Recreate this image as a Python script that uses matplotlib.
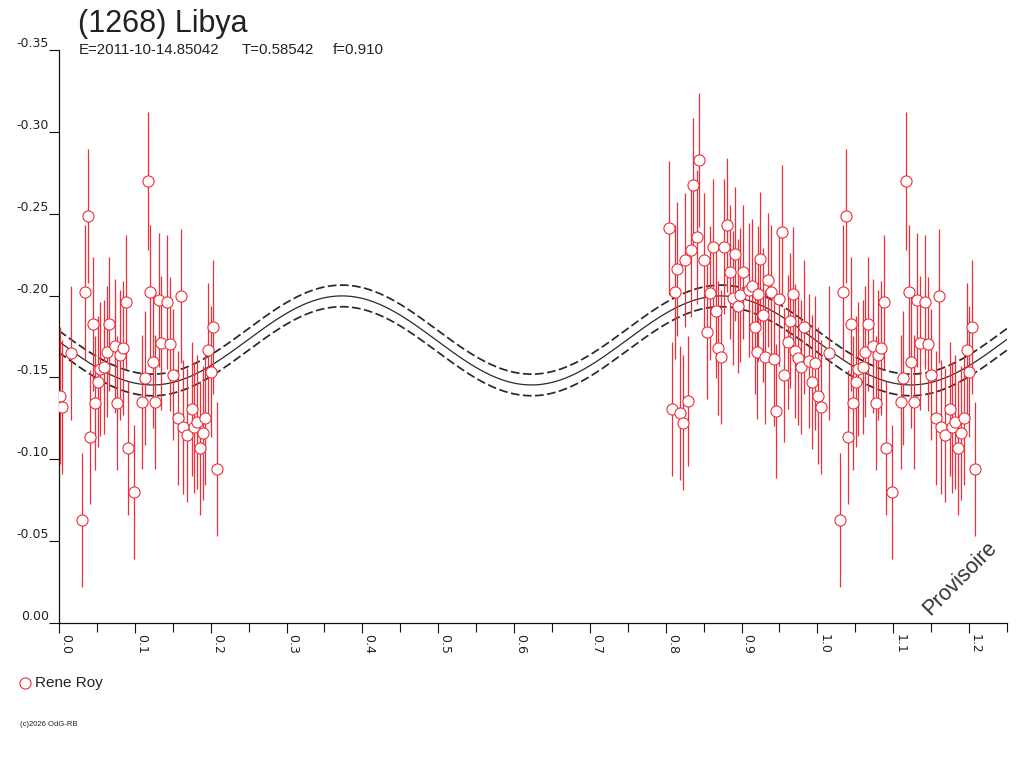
import numpy as np
import matplotlib
matplotlib.use("Agg")
import matplotlib.pyplot as plt
from matplotlib.lines import Line2D
from matplotlib.ticker import FuncFormatter

# ---------------- data ----------------
TITLE = "(1268) Libya"
SUB_E = "E=2011-10-14.85042"
SUB_T = "T=0.58542"
SUB_F = "f=0.910"
OBSERVER = "Rene Roy"
FOOTER = "(c)2026 OdG-RB"
WATERMARK = "Provisoire"

# observations (phase, relative magnitude)
phase_a = [0.0013, 0.0044, 0.0154, 0.0299, 0.0343, 0.0378, 0.0405, 0.0444, 0.0475, 0.0510,
           0.0540, 0.0597, 0.0629, 0.0663, 0.0738, 0.0769, 0.0804, 0.0840, 0.0879, 0.0910,
           0.0989, 0.1098, 0.1134, 0.1169, 0.1204, 0.1239, 0.1269, 0.1318, 0.1349, 0.1424,
           0.1463, 0.1499, 0.1565, 0.1608, 0.1631, 0.1683, 0.1749, 0.1780, 0.1815, 0.1859,
           0.1894, 0.1929, 0.1968, 0.2000, 0.2034, 0.2079]
mag_a = [-0.1389, -0.1321, -0.1651, -0.0631, -0.2024, -0.2484, -0.1134, -0.1827, -0.1346, -0.1474,
         -0.1550, -0.1562, -0.1657, -0.1828, -0.1692, -0.1346, -0.1637, -0.1678, -0.1959, -0.1071,
         -0.0798, -0.1350, -0.1498, -0.2700, -0.2020, -0.1593, -0.1350, -0.1973, -0.1712, -0.1961,
         -0.1704, -0.1515, -0.1254, -0.1996, -0.1195, -0.1147, -0.1307, -0.1195, -0.1230, -0.1067,
         -0.1159, -0.1254, -0.1668, -0.1535, -0.1810, -0.0939]
err_a = [0.042, 0.041, 0.041, 0.041, 0.041, 0.041, 0.041, 0.041, 0.041, 0.040,
         0.041, 0.041, 0.040, 0.041, 0.041, 0.041, 0.040, 0.041, 0.041, 0.041,
         0.041, 0.041, 0.041, 0.042, 0.041, 0.040, 0.041, 0.041, 0.041, 0.041,
         0.041, 0.040, 0.041, 0.041, 0.041, 0.041, 0.041, 0.040, 0.041, 0.041,
         0.041, 0.041, 0.041, 0.040, 0.041, 0.041]

phase_b = [0.8045, 0.8077, 0.8116, 0.8150, 0.8186, 0.8222, 0.8256, 0.8296, 0.8327, 0.8361,
           0.8414, 0.8441, 0.8503, 0.8546, 0.8582, 0.8617, 0.8661, 0.8691, 0.8727, 0.8766,
           0.8806, 0.8845, 0.8881, 0.8911, 0.8951, 0.8977, 0.9013, 0.9100, 0.9135, 0.9175,
           0.9197, 0.9217, 0.9237, 0.9284, 0.9311, 0.9346, 0.9382, 0.9425, 0.9452, 0.9495,
           0.9531, 0.9566, 0.9606, 0.9636, 0.9672, 0.9711, 0.9746, 0.9781, 0.9821, 0.9891,
           0.9930, 0.9970]
mag_b = [-0.2415, -0.1305, -0.2020, -0.2164, -0.1285, -0.1224, -0.2217, -0.1356, -0.2277, -0.2677,
         -0.2360, -0.2828, -0.2217, -0.1779, -0.2014, -0.2299, -0.1908, -0.1680, -0.1627, -0.2299,
         -0.2431, -0.2142, -0.1983, -0.2252, -0.1936, -0.2004, -0.2142, -0.2034, -0.2060, -0.1806,
         -0.1657, -0.2012, -0.2224, -0.1881, -0.1627, -0.2095, -0.2024, -0.1613, -0.1295, -0.1977,
         -0.2389, -0.1515, -0.1718, -0.1847, -0.2008, -0.1663, -0.1617, -0.1562, -0.1810, -0.1600,
         -0.1470, -0.1586]
err_b = [0.041, 0.041, 0.041, 0.041, 0.041, 0.041, 0.041, 0.040, 0.041, 0.041,
         0.041, 0.041, 0.041, 0.041, 0.041, 0.041, 0.041, 0.041, 0.041, 0.041,
         0.041, 0.041, 0.041, 0.041, 0.041, 0.041, 0.041, 0.041, 0.041, 0.041,
         0.041, 0.041, 0.041, 0.041, 0.041, 0.041, 0.041, 0.041, 0.041, 0.041,
         0.041, 0.041, 0.041, 0.041, 0.041, 0.041, 0.041, 0.041, 0.041, 0.041,
         0.041, 0.041]

# fitted lightcurve (2nd-harmonic Fourier model) and its uncertainty band
FIT_MEAN = -0.1726
FIT_AMP = 0.0272
FIT_PHASE_MAX = 0.373
FIT_BAND = 0.0066

XMAX = 1.25
YTICKS = [-0.35, -0.30, -0.25, -0.20, -0.15, -0.10, -0.05, 0.00]
XTICKS_MAJOR = [0.0, 0.1, 0.2, 0.3, 0.4, 0.5, 0.6, 0.7, 0.8, 0.9, 1.0, 1.1, 1.2]
XTICKS_MINOR = [0.05, 0.15, 0.25, 0.35, 0.45, 0.55, 0.65, 0.75, 0.85, 0.95, 1.05, 1.15, 1.25]

# ---------------- styling ----------------
RED = "#ee2e38"
CURVE = "#2a2a2a"
TXT = "#222222"
W, H = 1024, 768

fig = plt.figure(figsize=(W / 100, H / 100), dpi=100)
fig.patch.set_facecolor("white")
ax = fig.add_axes([59 / W, (H - 623) / H, (1007 - 59) / W, (623 - 50) / H])

# observations: repeat with phase+1
ph = np.concatenate([phase_a, phase_b, np.array(phase_a) + 1.0, np.array(phase_b) + 1.0])
mg = np.concatenate([mag_a, mag_b, mag_a, mag_b])
er = np.concatenate([err_a, err_b, err_a, err_b])
keep = (ph >= 0) & (ph <= XMAX)
ph, mg, er = ph[keep], mg[keep], er[keep]

# model curve
grid = np.linspace(0, XMAX, 800)
model = FIT_MEAN - FIT_AMP * np.cos(4 * np.pi * (grid - FIT_PHASE_MAX))
ax.plot(grid, model, color=CURVE, lw=0.9, zorder=2)
ax.plot(grid, model - FIT_BAND, color=CURVE, lw=1.25, ls=(0, (5.0, 2.0)), zorder=2)
ax.plot(grid, model + FIT_BAND, color=CURVE, lw=1.25, ls=(0, (5.0, 2.0)), zorder=2)

ax.errorbar(ph, mg, yerr=er, fmt="none", ecolor=RED, elinewidth=0.9, capsize=0, zorder=3)
ax.plot(ph, mg, ls="none", marker="o", ms=8, mfc="white", mec=RED, mew=0.8, zorder=4)

ax.set_xlim(0, XMAX)
ax.set_ylim(0.0, -0.35)

for s in ["top", "right"]:
    ax.spines[s].set_visible(False)
for s in ["left", "bottom"]:
    ax.spines[s].set_color("#111111")
    ax.spines[s].set_linewidth(0.9)

ax.set_yticks(YTICKS)
ax.yaxis.set_major_formatter(FuncFormatter(lambda v, p: "0.00" if abs(v) < 1e-9 else f"{v:.2f}"))
ax.set_xticks(XTICKS_MAJOR)
ax.set_xticks(XTICKS_MINOR, minor=True)
ax.xaxis.set_major_formatter(FuncFormatter(lambda v, p: f"{v:.1f}"))

ax.tick_params(axis="y", direction="out", length=7.2, width=0.8, pad=0,
               labelsize=9, labelcolor=TXT, color="#111111")
ax.tick_params(axis="x", which="major", direction="out", length=7.2, width=0.8, pad=1,
               labelsize=9, labelcolor=TXT, color="#111111")
ax.tick_params(axis="x", which="minor", direction="out", length=6.6, width=0.8, color="#111111")
plt.setp(ax.get_yticklabels(), va="bottom", family="DejaVu Sans")
plt.setp(ax.get_xticklabels(), rotation=-90, ha="left", va="top", family="DejaVu Sans")

# texts
def fx(px):
    return px / W

def fy(py):
    return 1 - py / H

fig.text(fx(78), fy(32), TITLE, fontsize=22, family="Liberation Sans", color=TXT, va="baseline", ha="left")
fig.text(fx(79), fy(54), SUB_E, fontsize=10.8, family="Liberation Sans", color=TXT, va="baseline", ha="left")
fig.text(fx(242), fy(54), SUB_T, fontsize=10.8, family="Liberation Sans", color=TXT, va="baseline", ha="left")
fig.text(fx(333), fy(54), SUB_F, fontsize=10.8, family="Liberation Sans", color=TXT, va="baseline", ha="left")

fig.add_artist(Line2D([fx(25)], [fy(683)], marker="o", ms=8, mfc="white", mec=RED, mew=0.8,
                      ls="none", transform=fig.transFigure))
fig.text(fx(35), fy(683), OBSERVER, fontsize=11, family="Liberation Sans", color=TXT, va="center", ha="left")
fig.text(fx(20), fy(725), FOOTER, fontsize=5.5, family="Liberation Sans", color=TXT, va="center", ha="left")
fig.text(fx(960), fy(578), WATERMARK, fontsize=15.5, family="Liberation Sans", color="#333333",
         rotation=45, ha="center", va="center", rotation_mode="anchor")

fig.savefig("out.png", dpi=100, facecolor="white")
